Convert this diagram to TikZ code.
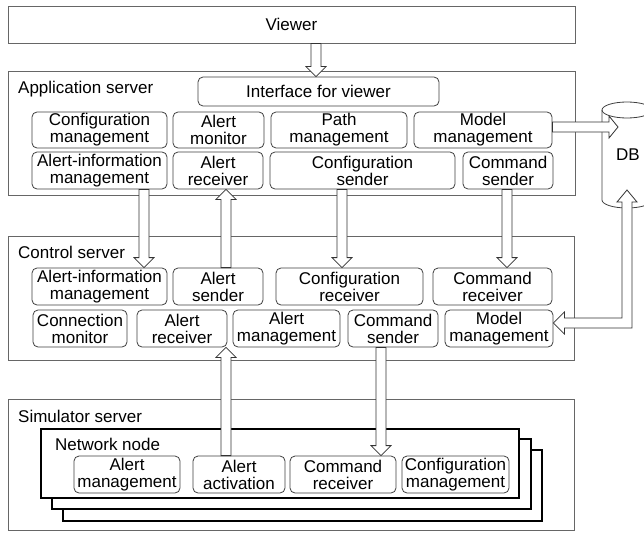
\documentclass[tikz,border=0pt]{standalone}
\usepackage{fontspec}
\setmainfont{Liberation Sans}
\usetikzlibrary{calc}
\tikzset{
  srv/.style={draw=black!60, line width=0.9pt, fill=white, inner sep=0pt, font=\fontsize{17}{17}\selectfont},
  rbox/.style={draw=black!75, line width=0.8pt, rounded corners=5pt, fill=white, align=center, inner sep=0pt, font=\fontsize{17}{17}\selectfont},
  nn/.style={draw=black, line width=1.6pt, fill=white, inner sep=0pt},
  lbl/.style={anchor=base west, inner sep=0pt, font=\fontsize{17}{17}\selectfont},
  barrow/.style={draw=black!80, line width=0.8pt, fill=white, line join=miter},
  cyl/.style={draw=black!75, line width=0.8pt},
}
\newcommand\bx[7]{\node[#1, minimum width={(#5-#3)*1pt}, minimum height={(#6-#4)*1pt}] (#2) at ({(#3+#5)/2},{(#4+#6)/2}) {#7};}
\newcommand\darrow[3]{%
  \path (#1,0 |- #2) coordinate (s) (#1,0 |- #3) coordinate (t);
  \draw[barrow] ($(s)+(-5,0)$) -- ($(t)+(-5,-10)$) -- ($(t)+(-10,-10)$) -- (t) -- ($(t)+(10,-10)$) -- ($(t)+(5,-10)$) -- ($(s)+(5,0)$) -- cycle;}
\newcommand\uarrow[3]{%
  \path (#1,0 |- #2) coordinate (s) (#1,0 |- #3) coordinate (t);
  \draw[barrow] ($(s)+(-5,0)$) -- ($(t)+(-5,10)$) -- ($(t)+(-10,10)$) -- (t) -- ($(t)+(10,10)$) -- ($(t)+(5,10)$) -- ($(s)+(5,0)$) -- cycle;}
\begin{document}
\begin{tikzpicture}[x=1pt,y=-1pt]
\useasboundingbox (0,0) rectangle (644,532);
% Viewer
\bx{srv}{viewer}{8}{6}{575}{43}{Viewer}
% Application server
\bx{srv}{app}{8}{71}{575}{195}{}
\node[lbl] (applbl) at (18,93) {Application server};
\bx{rbox}{iface}{198}{77}{439}{106}{Interface for viewer}
\bx{rbox}{appCM}{32}{112}{167}{148}{Configuration\\management}
\bx{rbox}{appAM}{173}{112}{264}{148}{Alert\\monitor}
\bx{rbox}{appPM}{271}{112}{407}{148}{Path\\management}
\bx{rbox}{appMM}{414}{112}{552}{148}{Model\\management}
\bx{rbox}{appAIM}{32}{152}{167}{189}{Alert-information\\management}
\bx{rbox}{appAR}{173}{152}{263}{189}{Alert\\receiver}
\bx{rbox}{appCS}{270}{152}{455}{189}{Configuration\\sender}
\bx{rbox}{appCmdS}{463}{152}{553}{189}{Command\\sender}
% Control server
\bx{srv}{ctl}{8}{236}{574}{360}{}
\node[lbl] (ctllbl) at (18,258) {Control server};
\bx{rbox}{ctlAIM}{32}{268}{167}{305}{Alert-information\\management}
\bx{rbox}{ctlAS}{173}{268}{263}{305}{Alert\\sender}
\bx{rbox}{ctlCR}{276}{268}{423}{305}{Configuration\\receiver}
\bx{rbox}{ctlCmdR}{433}{268}{552}{305}{Command\\receiver}
\bx{rbox}{ctlCM}{33}{310}{127}{347}{Connection\\monitor}
\bx{rbox}{ctlAR}{137}{310}{227}{347}{Alert\\receiver}
\bx{rbox}{ctlAM}{233}{310}{340}{347}{Alert\\management}
\bx{rbox}{ctlCmdS}{348}{310}{438}{347}{Command\\sender}
\bx{rbox}{ctlMM}{445}{310}{553}{347}{Model\\management}
% Simulator server
\bx{srv}{sim}{8}{399}{574}{530}{}
\node[lbl] (simlbl) at (18,422) {Simulator server};
\bx{nn}{nn3}{63}{450}{542}{521}{}
\bx{nn}{nn2}{52}{439}{531}{509}{}
\bx{nn}{nn1}{41}{429}{519}{498}{}
\node[lbl] (nnlbl) at (55,450) {Network node};
\bx{rbox}{simAM}{74}{456}{180}{493}{Alert\\management}
\bx{rbox}{simAA}{193}{456}{285}{493}{Alert\\activation}
\bx{rbox}{simCR}{290}{456}{396}{493}{Command\\receiver}
\bx{rbox}{simCfg}{402}{456}{509}{493}{Configuration\\management}
% DB cylinder
\draw[cyl, fill=white] (602,110) -- (602,200) arc[start angle=180, end angle=360, x radius=25pt, y radius=8pt] -- (652,110);
\draw[cyl] (627,110) ellipse [x radius=25pt, y radius=8pt];
\node[inner sep=0pt, font=\fontsize{17}{17}\selectfont] (db) at (628,155) {DB};
\coordinate (dbL) at (618,127);
\coordinate (dbB) at (627,190);
% vertical arrows
\darrow{316}{viewer.south}{iface.north}
\darrow{144}{appAIM.south}{ctlAIM.north}
\uarrow{226}{ctlAS.north}{appAR.south}
\darrow{342}{appCS.south}{ctlCR.north}
\darrow{507}{appCmdS.south}{ctlCmdR.north}
\uarrow{226}{simAA.north}{ctlAR.south}
\darrow{381}{ctlCmdS.south}{simCR.north}
% Model management -> DB
\path (appMM.east |- 0,127) coordinate (s8) (dbL) coordinate (t8);
\draw[barrow] ($(s8)+(0,-5)$) -- ($(t8)+(-9,-5)$) -- ($(t8)+(-9,-11)$) -- (t8) -- ($(t8)+(-9,11)$) -- ($(t8)+(-9,5)$) -- ($(s8)+(0,5)$) -- cycle;
% DB <-> control Model management
\path (dbB) coordinate (u) (ctlMM.east |- 0,323) coordinate (v);
\draw[barrow] (u) -- ($(u)+(10,12)$) -- ($(u)+(5,12)$) -- ($(u |- v)+(5,5)$) -- ($(v)+(11,5)$) -- ($(v)+(11,11)$) -- (v) -- ($(v)+(11,-11)$) -- ($(v)+(11,-5)$) -- ($(u |- v)+(-5,-5)$) -- ($(u)+(-5,12)$) -- ($(u)+(-10,12)$) -- cycle;
\end{tikzpicture}
\end{document}
